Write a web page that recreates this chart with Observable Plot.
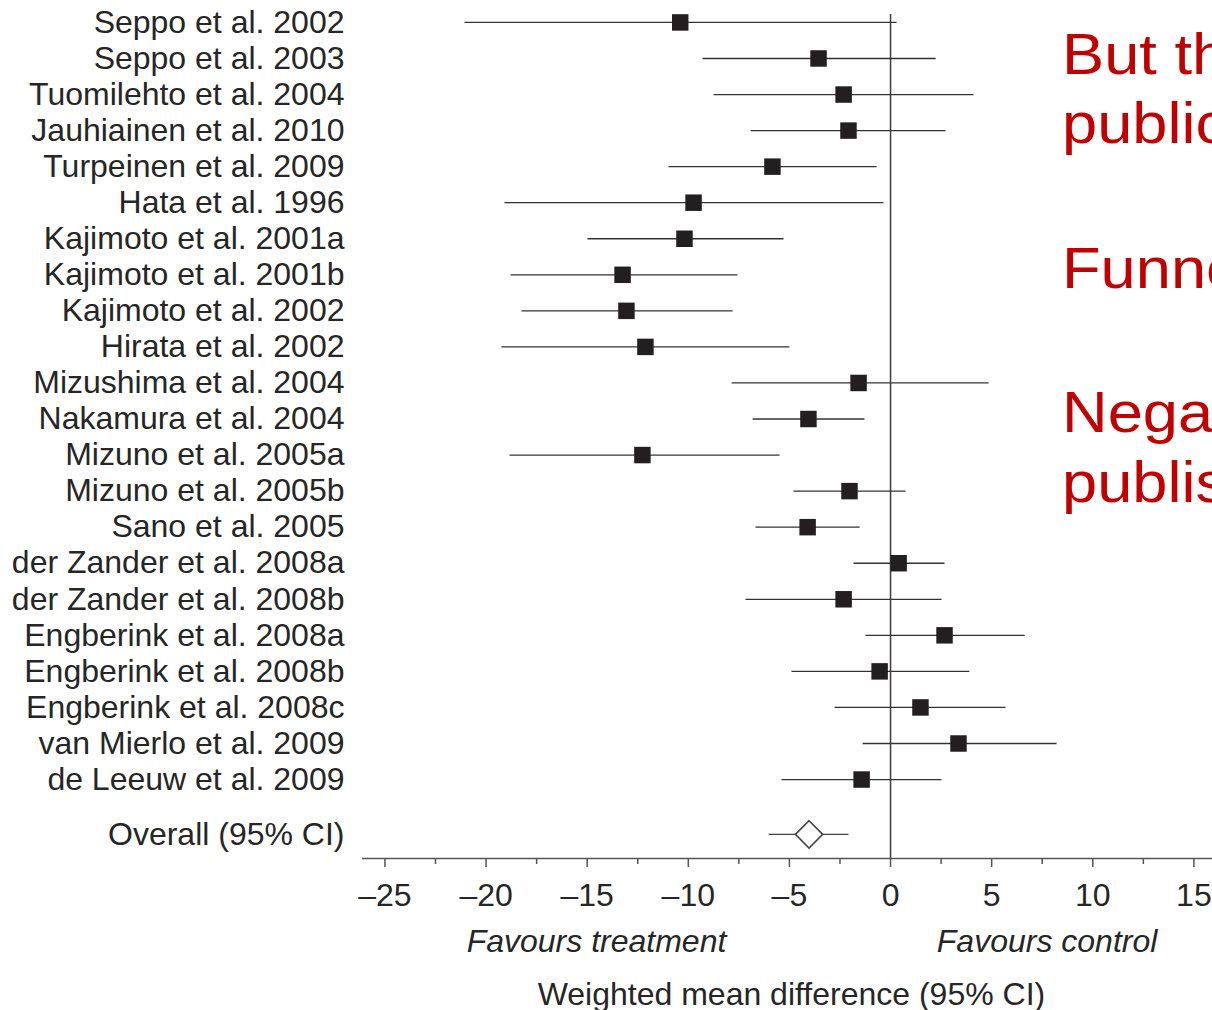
<!DOCTYPE html>
<html>
<head>
<meta charset="utf-8">
<script src="https://cdn.jsdelivr.net/npm/d3@7"></script>
<script src="https://cdn.jsdelivr.net/npm/@observablehq/plot@0.6"></script>
<style>
  html, body { margin: 0; padding: 0; background: #fff; overflow: hidden; }
  #wrap { position: relative; width: 1212px; height: 1010px; overflow: hidden; }
  .note { position: absolute; left: 1062px; white-space: nowrap; font-family: "Liberation Sans", Arial, sans-serif; font-size: 58px; line-height: 58px; color: #c00000; transform: scaleX(1.09); transform-origin: left top; }
</style>
</head>
<body>
<div id="wrap"></div>
<script>
const studies = [
  "Seppo et al. 2002", "Seppo et al. 2003", "Tuomilehto et al. 2004", "Jauhiainen et al. 2010",
  "Turpeinen et al. 2009", "Hata et al. 1996", "Kajimoto et al. 2001a", "Kajimoto et al. 2001b",
  "Kajimoto et al. 2002", "Hirata et al. 2002", "Mizushima et al. 2004", "Nakamura et al. 2004",
  "Mizuno et al. 2005a", "Mizuno et al. 2005b", "Sano et al. 2005", "der Zander et al. 2008a",
  "der Zander et al. 2008b", "Engberink et al. 2008a", "Engberink et al. 2008b", "Engberink et al. 2008c",
  "van Mierlo et al. 2009", "de Leeuw et al. 2009"
];
const effects = [-10.4, -3.56, -2.32, -2.08, -5.84, -9.74, -10.19, -13.25, -13.06, -12.12, -1.58, -4.06,
  -12.27, -2.03, -4.1, 0.4, -2.32, 2.67, -0.54, 1.48, 3.36, -1.43];
const lower = [-21.07, -9.3, -8.75, -6.92, -10.98, -19.09, -14.99, -18.79, -18.25, -19.24, -7.86, -6.82,
  -18.84, -4.8, -6.68, -1.83, -7.17, -1.24, -4.9, -2.77, -1.38, -5.39];
const upper = [0.3, 2.23, 4.1, 2.72, -0.69, -0.35, -5.29, -7.57, -7.81, -5.0, 4.85, -1.29,
  -5.49, 0.74, -1.53, 2.67, 2.52, 6.63, 3.9, 5.69, 8.21, 2.52];

const overallLabel = "Overall (95% CI)";
const overallEffect = -4.03;
const overallLower = -6.03;
const overallUpper = -2.08;

const majorTicks = [-25, -20, -15, -10, -5, 0, 5, 10, 15];
const minorTicks = [-22.5, -17.5, -12.5, -7.5, -2.5, 2.5, 7.5, 12.5];

const axisTitle = "Weighted mean difference (95% CI)";
const favourLabels = ["Favours treatment", "Favours control"];
const favourX = [-14.54, 7.74];
const titleX = -4.9;

const noteLines = ["But there may be", "publication bias", "Funnel plot asymmetry", "Negative studies less likely to be", "published"];

// layout
const n = studies.length;
const overallRow = n - 1 + 1.52;
const rows = studies.map((s, i) => ({name: s, est: effects[i], lo: lower[i], hi: upper[i], row: i}));
const overall = [{name: overallLabel, est: overallEffect, lo: overallLower, hi: overallUpper, row: overallRow}];
const yBottom = n - 1 + 2.19;

const font = "'Liberation Sans', Arial, sans-serif";
const ink = "#262626";
const fmt = d => d < 0 ? "\u2013" + Math.abs(d) : String(d);

const chart = Plot.plot({
  width: 1212,
  height: 1010,
  marginLeft: 362,
  marginRight: 0,
  marginTop: 14,
  marginBottom: 152,
  style: {fontFamily: font, color: ink, background: "#fff"},
  x: {domain: [-26.11, 15.92], axis: null},
  y: {domain: [-0.22, yBottom], reverse: true, axis: null},
  marks: [
    Plot.ruleX([0], {stroke: "#444", strokeWidth: 1.6}),
    Plot.ruleY([yBottom], {stroke: "#555", strokeWidth: 1.6}),
    Plot.axisX(majorTicks, {tickSize: 9, tickPadding: 16, fontSize: 32, tickFormat: fmt, stroke: "#555", strokeWidth: 1.5, fill: ink, label: null}),
    Plot.axisX(minorTicks, {tickSize: 6, tickFormat: () => "", stroke: "#555", strokeWidth: 1.5, label: null}),
    Plot.link(rows, {x1: "lo", x2: "hi", y1: "row", y2: "row", stroke: "#333", strokeWidth: 1.3}),
    Plot.dot(rows, {x: "est", y: "row", symbol: "square", r: 9.3, fill: "#231f20", stroke: "none"}),
    Plot.link(overall, {x1: "lo", x2: "hi", y1: "row", y2: "row", stroke: "#444", strokeWidth: 1.4}),
    Plot.dot(overall, {x: "est", y: "row", symbol: "diamond2", r: 12.3, fill: "#fff", stroke: "#444", strokeWidth: 1.6}),
    Plot.text(rows.concat(overall), {y: "row", text: "name", frameAnchor: "left", dx: -18, textAnchor: "end", fontSize: 32, fill: ink}),
    Plot.text(favourLabels, {x: (d, i) => favourX[i], text: d => d, frameAnchor: "bottom", dy: 93, fontSize: 32, fontStyle: "italic", fill: ink}),
    Plot.text([axisTitle], {x: () => titleX, text: d => d, frameAnchor: "bottom", dy: 146, fontSize: 32, fill: ink})
  ]
});

const wrap = document.getElementById("wrap");
wrap.appendChild(chart);
const noteTops = [25, 94, 239, 383, 453];
noteLines.forEach((t, i) => {
  const d = document.createElement("div");
  d.className = "note";
  d.style.top = noteTops[i] + "px";
  d.textContent = t;
  wrap.appendChild(d);
});
</script>
</body>
</html>
